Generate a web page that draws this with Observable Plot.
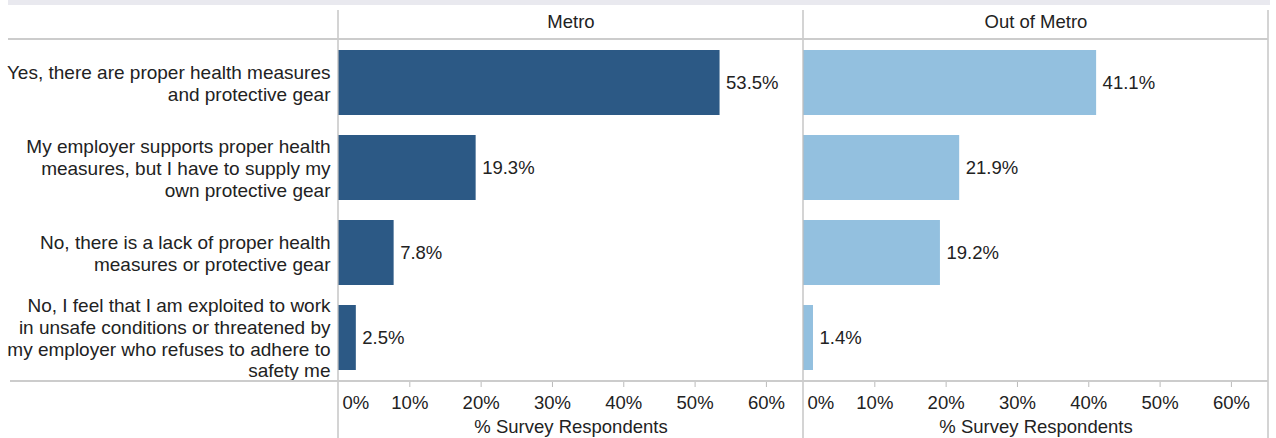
<!DOCTYPE html>
<html><head><meta charset="utf-8">
<script src="https://cdn.jsdelivr.net/npm/d3@7"></script>
<script src="https://cdn.jsdelivr.net/npm/@observablehq/plot@0.6"></script>
<style>
body{margin:0;background:#fff;font-family:"Liberation Sans",Arial,sans-serif;}
#band{height:5px;margin-left:8px;margin-right:6px;background:#e9e9ef;}
#chart svg{display:block;}
</style></head><body>
<div id="band"></div><div id="chart"></div>
<script>
const categories = [
  "Yes, there are proper health measures\nand protective gear",
  "My employer supports proper health\nmeasures, but I have to supply my\nown protective gear",
  "No, there is a lack of proper health\nmeasures or protective gear",
  "No, I feel that I am exploited to work\nin unsafe conditions or threatened by\nmy employer who refuses to adhere to\nsafety me"
];
const regions = ["Metro", "Out of Metro"];
const metroValues = [53.5, 19.3, 7.8, 2.5];
const outOfMetroValues = [41.1, 21.9, 19.2, 1.4];
const tickValues = [0, 10, 20, 30, 40, 50, 60];
const axisTitle = "% Survey Respondents";
const colors = ["#2c5985", "#93c0df"];

const data = [];
categories.forEach((c, i) => {
  data.push({region: regions[0], category: c, value: metroValues[i]});
  data.push({region: regions[1], category: c, value: outOfMetroValues[i]});
});

const W = 1276, H = 433, mL = 338, mR = 8, mT = 34, mB = 57;
const fs = 18.5;
const txt = "#222";
const fmt = d => d + "%";

const plot = Plot.plot({
  width: W, height: H, marginLeft: mL, marginRight: mR, marginTop: mT, marginBottom: mB,
  style: {fontFamily: "'Liberation Sans', Arial, sans-serif", fontSize: fs + "px", color: txt, background: "#fff", overflow: "visible"},
  fx: {domain: regions, padding: 0, axis: null},
  x: {domain: [0, 65.2], axis: null},
  y: {domain: categories, paddingInner: 0.24, paddingOuter: 0.12, axis: null},
  color: {domain: regions, range: colors},
  marks: [
    Plot.barX(data, {fx: "region", y: "category", x: "value", fill: "region"}),
    Plot.text(data, {fx: "region", y: "category", x: "value", text: d => d.value.toFixed(1) + "%", textAnchor: "start", dx: 6, fill: txt, fontSize: fs}),
    Plot.axisY({tickSize: 0, tickPadding: 8, label: null, fontSize: 19, lineHeight: 1.14, color: txt}),
    Plot.axisX(tickValues.slice(1), {tickSize: 6, tickPadding: 8, tickFormat: fmt, label: null, stroke: "#bbb", fill: txt, fontSize: fs}),
    Plot.axisX(tickValues.slice(0, 1), {tickSize: 0, tickPadding: 14, tickFormat: fmt, textAnchor: "start", dx: 4, label: null, fill: txt, fontSize: fs}),
    Plot.text(regions, {fx: d => d, frameAnchor: "top", lineAnchor: "middle", dy: -17, text: d => d, fill: txt, fontSize: fs}),
    Plot.text(regions, {fx: d => d, frameAnchor: "bottom", lineAnchor: "middle", dy: 46, text: () => axisTitle, fill: txt, fontSize: fs})
  ]
});
document.getElementById("chart").appendChild(plot);

// structural grid lines (facet borders, header & axis rules)
const fxs = plot.scale("fx");
const left = fxs.apply(regions[0]);
const mid = fxs.apply(regions[1]);
const right = mid + fxs.bandwidth;
const svg = d3.select(plot.tagName === "svg" ? plot : plot.querySelector("svg"));
const g = svg.append("g").attr("fill", "none");
[left, mid, right].forEach(x => {
  g.append("line").attr("x1", x).attr("x2", x).attr("y1", 5).attr("y2", H)
    .attr("stroke", "#bdbdbd").attr("stroke-width", 1.3);
});
g.append("line").attr("x1", 8).attr("x2", right).attr("y1", mT).attr("y2", mT)
  .attr("stroke", "#cccccc").attr("stroke-width", 2);
g.append("line").attr("x1", 10).attr("x2", right).attr("y1", H - mB).attr("y2", H - mB)
  .attr("stroke", "#cccccc").attr("stroke-width", 2);
</script>
</body></html>
